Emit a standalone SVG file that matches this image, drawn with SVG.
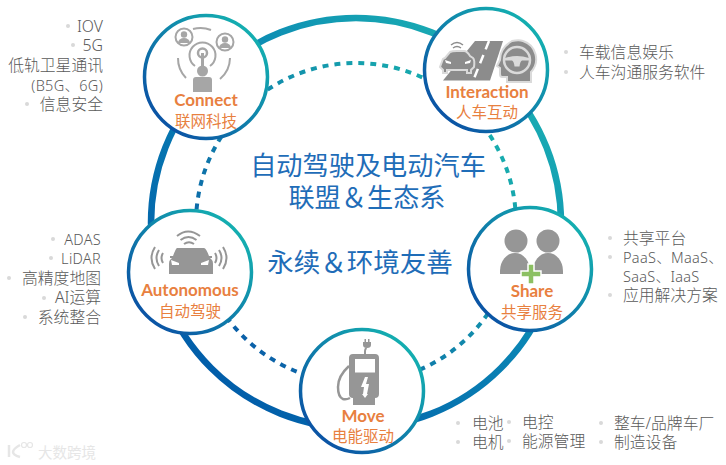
<svg xmlns="http://www.w3.org/2000/svg" width="726" height="465" viewBox="0 0 726 465">
<style>
.n{font-family:"Lato","Liberation Sans",sans-serif;font-weight:700;font-size:17px;fill:#E8803F;text-anchor:middle}
.c{font-family:"Noto Sans CJK SC","Noto Sans",sans-serif;font-size:15.5px;fill:#E8803F;text-anchor:middle}
.t{font-family:"Noto Sans CJK SC","Noto Sans",sans-serif;font-size:26.2px;fill:#1F6DB8;text-anchor:middle}
.l{font-family:"Noto Sans","Noto Sans CJK SC",sans-serif;font-size:15.8px;fill:#595959;font-weight:300}
.r{text-anchor:end}
.s{font-size:14.5px;letter-spacing:.3px}
.b{fill:#D9D9D9}
.ring{fill:#fff;stroke-width:3.5}
.i{fill:#969696}
.is{fill:none;stroke:#A6A6A6}
</style>
<defs>
<linearGradient id="big" gradientUnits="userSpaceOnUse" x1="190" y1="400" x2="520" y2="50">
<stop offset="0" stop-color="#0058A8"/><stop offset="0.55" stop-color="#0A84B4"/><stop offset="1" stop-color="#1CB2B2"/>
</linearGradient>
<linearGradient id="dot" gradientUnits="userSpaceOnUse" x1="220" y1="340" x2="490" y2="110">
<stop offset="0" stop-color="#0A5CA8"/><stop offset="1" stop-color="#18B0AE"/>
</linearGradient>
<linearGradient id="node" x1="0.15" y1="0.85" x2="0.85" y2="0.15">
<stop offset="0" stop-color="#0B55A5"/><stop offset="1" stop-color="#14ADB0"/>
</linearGradient>
</defs>

<g id="connectors">
<circle cx="356" cy="223" r="205" fill="none" stroke="url(#big)" stroke-width="6.500"/>
<circle cx="356" cy="223" r="160" fill="none" stroke="url(#dot)" stroke-width="4" stroke-dasharray="6 6"/>
</g>

<g id="center-title">
<text class="t" x="368" y="175">自动驾驶及电动汽车</text>
<text class="t" x="367" y="207">联盟＆生态系</text>
<text class="t" x="360" y="272" style="font-size:26.500px">永续＆环境友善</text>
</g>

<g id="connect">
<circle class="ring" cx="206" cy="77" r="61.500" stroke="url(#node)"/>
<g class="i">
<circle cx="184" cy="37" r="8.500" fill="none" stroke="#A6A6A6" stroke-width="2"/>
<circle cx="184" cy="34.500" r="3.200" fill="#A6A6A6"/><path d="M178 43a6 5 0 0 1 12 0z" fill="#A6A6A6"/>
<circle cx="225" cy="42" r="8.500" fill="none" stroke="#A6A6A6" stroke-width="2"/>
<circle cx="225" cy="39.500" r="3.200" fill="#A6A6A6"/><path d="M219 48a6 5 0 0 1 12 0z" fill="#A6A6A6"/>
<circle cx="202.500" cy="53" r="4.500" fill="none" stroke="#A6A6A6" stroke-width="2.500"/>
<path class="is" stroke-width="2" d="M195 66a13 13 0 1 1 15 0"/>
<path class="is" stroke-width="2" d="M186 78a28 28 0 0 1-8-20M193 29a28 28 0 0 1 18 1M230 58a28 28 0 0 1-10 21"/>
<path fill="#A6A6A6" d="M201 53h3v14h-3z"/>
<circle cx="202.500" cy="71" r="5.500" fill="#A6A6A6"/>
<path fill="#A6A6A6" d="M193 92V80q0-3 3-3h13q3 0 3 3v12z"/>
</g>
<text class="n" x="206" y="106">Connect</text>
<text class="c" x="206" y="127">联网科技</text>
</g>

<g id="interaction">
<circle class="ring" cx="486" cy="70" r="61.500" stroke="url(#node)"/>
<path fill="#8C8C8C" d="M475 41h28l-13 39.500h-47z"/>
<path fill="none" stroke="#fff" stroke-width="2.500" stroke-dasharray="9 6" d="M489 41l-16 40"/>
<path fill="#8C8C8C" stroke="#DADADA" stroke-width="2" d="M443 59l2-1 5-6q2-1 7-1h7q3 0 6 5l3 2q2 2 1 9l-3 3v3h-4v-3h-20v3h-4v-3l-3-3z"/>
<path fill="#fff" d="M445 60l6 2v2l-5-1zM471 60l-6 2v2l5-1z"/>
<path fill="none" stroke="#8C8C8C" stroke-width="1.500" d="M451 45q6-5 12 0M453 48q4-3 8 0"/>
<path fill="#8C8C8C" stroke="#DADADA" stroke-width="2" d="M512 41q7-1.500 11 0a19 19 0 0 1 8 31v10h-24v-5h-5q-2 0-2-3v-6l-3-2 3-6q0-12 12-19z"/>
<circle cx="517" cy="60" r="13" fill="none" stroke="#DADADA" stroke-width="2.500"/>
<path fill="#DADADA" d="M505 58q12-4 24 0v2.500h-7q-2 1-2.500 6l-5 0q-.5-5-2.500-6h-7z"/>
<text class="n" x="487" y="98">Interaction</text>
<text class="c" x="487" y="118">人车互动</text>
</g>

<g id="autonomous">
<circle class="ring" cx="190" cy="272" r="61.500" stroke="url(#node)"/>
<path fill="#969696" d="M177 248h27q2 0 5 8h3v2h-2l2 2q1 1 1 4v10h-44v-10q0-3 1-4l2-2h-2v-2h3q3-8 4-8z"/>
<path fill="#fff" d="M171 260l8 3v2h-7zM209 260l-8 3v2h7z"/>
<path fill="none" stroke="#969696" stroke-width="2" d="M177 236q11-9 23 0M180.500 240q8-6 16 0M184 244q5-3.500 10 0"/>
<path fill="none" stroke="#969696" stroke-width="2" d="M155 247q-7 11 0 22M159 250q-5 8 0 16M163 253q-3 5 0 10M223 247q7 11 0 22M219 250q5 8 0 16M215 253q3 5 0 10"/>
<text class="n" x="190" y="296">Autonomous</text>
<text class="c" x="190" y="317">自动驾驶</text>
</g>

<g id="share">
<circle class="ring" cx="530" cy="269" r="61.500" stroke="url(#node)"/>
<circle class="i" cx="516" cy="241" r="11.500"/>
<circle class="i" cx="548" cy="241" r="11.500"/>
<path class="i" d="M500 274v-3a15 18 0 0 1 30 0v3z"/>
<path class="i" d="M533 274v-3a15 18 0 0 1 30 0v3z"/>
<path fill="#8CC063" stroke="#fff" stroke-width="1.500" d="M528 264h6v7h7v6h-7v7h-6v-7h-7v-6h7z"/>
<text class="n" x="532" y="297">Share</text>
<text class="c" x="532" y="318">共享服务</text>
</g>

<g id="move">
<circle class="ring" cx="362" cy="391" r="61.500" stroke="url(#node)"/>
<path class="i" d="M353 354h22q4 0 4 4v36q0 4-4 4v7h-22v-7q-4 0-4-4v-36q0-4 4-4z"/>
<rect x="355" y="359" width="20" height="13.500" fill="#fff"/>
<path fill="#fff" d="M365 377l-4 10h3l-1 7-1 0 3 4 3-4h-1l2-10h-3l2-7z"/>
<path fill="none" stroke="#969696" stroke-width="2" d="M365 354v-3q0-2 1.500-3"/>
<path fill="#969696" d="M363 342h1.500v-3h1.500v3h2v-3h1.500v3h1.500v3q0 3-4 3t-4-3z"/>
<path fill="none" stroke="#969696" stroke-width="2.500" d="M349 366q-11 10-11 21 0 10 5 12 3 1 7-1"/>
<text class="n" x="363" y="422">Move</text>
<text class="c" x="363" y="442">电能驱动</text>
</g>

<g id="connect-list">
<circle class="b" cx="68" cy="26" r="2"/><text class="l r" x="103" y="32">IOV</text>
<circle class="b" cx="73" cy="45" r="2"/><text class="l r" x="103" y="51">5G</text>
<text class="l r" x="103" y="71">低轨卫星通讯</text>
<text class="l r s" x="103" y="91">(B5G、6G)</text>
<circle class="b" cx="27" cy="104" r="2"/><text class="l r" x="103" y="110">信息安全</text>
</g>
<g id="interaction-list">
<circle class="b" cx="566" cy="52" r="2"/><text class="l" x="579" y="58">车载信息娱乐</text>
<circle class="b" cx="566" cy="72" r="2"/><text class="l" x="579" y="78">人车沟通服务软件</text>
</g>
<g id="autonomous-list">
<circle class="b" cx="53" cy="239" r="2"/><text class="l r s" x="101" y="245">ADAS</text>
<circle class="b" cx="51" cy="258" r="2"/><text class="l r s" x="101" y="264">LiDAR</text>
<circle class="b" cx="9" cy="278" r="2"/><text class="l r" x="101" y="284">高精度地图</text>
<circle class="b" cx="44" cy="298" r="2"/><text class="l r" x="101" y="303">AI运算</text>
<circle class="b" cx="25" cy="317" r="2"/><text class="l r" x="101" y="323">系统整合</text>
</g>
<g id="share-list">
<circle class="b" cx="610" cy="238" r="2"/><text class="l" x="623" y="244">共享平台</text>
<circle class="b" cx="610" cy="257" r="2"/><text class="l s" x="623" y="263">PaaS、MaaS、</text>
<text class="l s" x="623" y="282">SaaS、IaaS</text>
<circle class="b" cx="610" cy="295" r="2"/><text class="l" x="623" y="301">应用解决方案</text>
</g>
<g id="move-list">
<circle class="b" cx="458" cy="423" r="2"/><text class="l" x="472" y="429">电池</text>
<circle class="b" cx="458" cy="442" r="2"/><text class="l" x="472" y="448">电机</text>
<circle class="b" cx="509" cy="422" r="2"/><text class="l" x="522" y="428">电控</text>
<circle class="b" cx="509" cy="441" r="2"/><text class="l" x="522" y="447">能源管理</text>
<circle class="b" cx="601" cy="423" r="2"/><text class="l" x="614" y="429">整车/品牌车厂</text>
<circle class="b" cx="601" cy="442" r="2"/><text class="l" x="614" y="448">制造设备</text>
</g>
<g id="watermark">
<path fill="none" stroke="#E6E6E6" stroke-width="2.500" d="M9 445v12M20 445q-7 4-7 7t7 5"/>
<circle cx="24" cy="445" r="2.500" fill="none" stroke="#E6E6E6" stroke-width="1.200"/>
<circle cx="30" cy="445" r="2.500" fill="none" stroke="#E6E6E6" stroke-width="1.200"/>
<text x="38" y="458" font-family="Noto Sans CJK SC,sans-serif" font-size="14.500" fill="#E6E6E6">大数跨境</text>
</g>
</svg>
